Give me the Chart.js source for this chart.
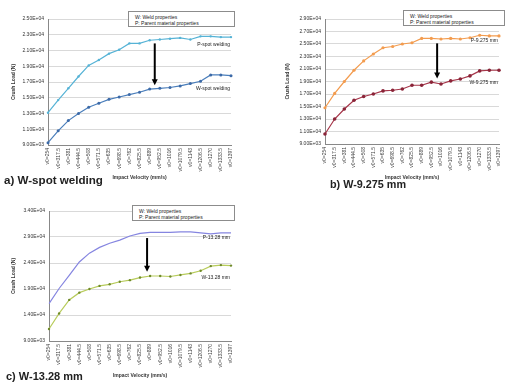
<!DOCTYPE html>
<html>
<head>
<meta charset="utf-8">
<script src="https://cdn.jsdelivr.net/npm/chart.js@4.4.1/dist/chart.umd.min.js"></script>
<style>
body{margin:0;background:#fff;width:508px;height:385px;position:relative;overflow:hidden;font-family:Arial,"Liberation Sans",sans-serif}
.pane{position:absolute}
.key{position:absolute;border:1px solid #8c8c8c;background:#fff;font-size:5px;line-height:6px;padding:2px 6px;color:#222;box-sizing:border-box;white-space:nowrap}
.cap{position:absolute;font-weight:bold;color:#222;white-space:nowrap}
</style>
</head>
<body>
<div class="pane" style="left:0;top:0"><canvas id="spotChart" width="240" height="185"></canvas></div>
<div class="pane" style="left:255px;top:0"><canvas id="mid9Chart" width="253" height="185"></canvas></div>
<div class="pane" style="left:0;top:195px"><canvas id="mid13Chart" width="240" height="190"></canvas></div>

<div class="key" style="left:128px;top:11px;width:107px;height:16px">W: Weld properties<br>P: Parent material properties</div>
<div class="key" style="left:403px;top:10px;width:102px;height:16px">W: Weld properties<br>P: Parent material properties</div>
<div class="key" style="left:132px;top:205px;width:103px;height:16px">W: Weld properties<br>P: Parent material properties</div>

<div class="cap" style="left:4px;top:173px;font-size:11.6px">a) W-spot welding</div>
<div class="cap" style="left:330px;top:178px;font-size:10.8px">b) W-9.275 mm</div>
<div class="cap" style="left:6px;top:370px;font-size:11px">c) W-13.28 mm</div>

<script>
const velocities = ['v0=254','v0=317.5','v0=381','v0=444.5','v0=508','v0=571.5','v0=635','v0=698.5','v0=762','v0=825.5','v0=889','v0=952.5','v0=1016','v0=1079.5','v0=1143','v0=1206.5','v0=1270','v0=1333.5','v0=1397'];

// a) spot welding
const spotParent = [13100,14700,16200,17700,19100,19800,20600,21100,21900,21900,22300,22400,22500,22600,22400,22800,22800,22700,22700];
const spotWeld = [9300,10800,12100,13000,13800,14300,14800,15100,15400,15700,16100,16200,16300,16500,16800,17100,17900,17900,17800];
const spotTicks = [9000,11000,13000,15000,17000,19000,21000,23000,25000];

// b) 9.275 mm
const mid9Parent = [14800,17100,19000,20800,22300,23400,24400,24600,25000,25200,25900,25900,25800,25900,25800,26000,26400,26300,26300];
const mid9Weld = [10600,13000,14600,16000,16600,17000,17500,17600,17800,18400,18400,18900,18600,19100,19400,19900,20700,20800,20800];
const mid9Ticks = [9000,11000,13000,15000,17000,19000,21000,23000,25000,27000,29000];

// c) 13.28 mm
const mid13Parent = [16200,19100,21600,24200,25900,27000,27800,28400,29200,29700,29900,29900,29900,30000,30000,29800,29600,29800,29800];
const mid13Weld = [11300,14300,16900,18300,19000,19600,19900,20400,20700,21200,21500,21500,21400,21700,22000,22500,23400,23600,23500];
const mid13Ticks = [9000,14000,19000,24000,29000,34000];

const FONT = 'Arial, "Liberation Sans", sans-serif';

//excel style 2.50E+04
const sci = (v) => {
    let [m, e] = v.toExponential(2).split('e');
    let n = parseInt(e);
    return m + 'E' + (n < 0 ? '-' : '+') + String(Math.abs(n)).padStart(2, '0');
};

//text labels and the arrow inside each plot
const notesPlugin = {
    id: 'notes',
    afterDatasetsDraw(chart, args, opts) {
        const { ctx, chartArea, scales: { x, y } } = chart;
        ctx.save();
        ctx.font = '5px ' + FONT;
        ctx.fillStyle = '#222';
        ctx.textAlign = 'right';
        ctx.textBaseline = 'middle';
        (opts.labels || []).forEach(l => ctx.fillText(l.text, chartArea.right - 1, y.getPixelForValue(l.y)));
        const a = opts.arrow;
        if (a) {
            const ax = x.getPixelForValue(a.x);
            const y0 = y.getPixelForValue(a.from);
            const y1 = y.getPixelForValue(a.to);
            ctx.strokeStyle = '#000';
            ctx.fillStyle = '#000';
            ctx.lineWidth = 2;
            ctx.beginPath(); ctx.moveTo(ax, y0); ctx.lineTo(ax, y1 - 5); ctx.stroke();
            ctx.beginPath(); ctx.moveTo(ax - 3, y1 - 6); ctx.lineTo(ax + 3, y1 - 6); ctx.lineTo(ax, y1); ctx.closePath(); ctx.fill();
        }
        ctx.restore();
    }
};

function makeChart(id, s) {
    new Chart(document.getElementById(id), {
        type: 'line',
        data: {
            labels: velocities,
            datasets: [
                { data: s.parent, borderColor: s.pColor, backgroundColor: s.pColor, borderWidth: 1.2, pointRadius: s.pPoint, pointBorderWidth: 0, tension: 0 },
                { data: s.weld, borderColor: s.wColor, backgroundColor: s.wMark, borderWidth: 1.2, pointRadius: s.wPoint, pointBorderWidth: 0, tension: 0 }
            ]
        },
        options: {
            responsive: false,
            animation: false,
            layout: { padding: s.pad },
            plugins: { legend: { display: false }, tooltip: { enabled: false }, notes: s.notes },
            scales: {
                x: {
                    grid: { display: false, drawTicks: false },
                    border: { color: '#888' },
                    ticks: { autoSkip: false, minRotation: 90, maxRotation: 90, padding: 3, color: '#444', font: { size: 5, family: FONT } },
                    title: { display: true, text: 'Impact Velocity (mm/s)', color: '#333', font: { size: 5, weight: 'bold', family: FONT }, padding: { top: 0, bottom: s.xTitlePad } },
                    afterFit: (sc) => { sc.height = s.xH; }
                },
                y: {
                    min: s.ticks[0],
                    max: s.ticks[s.ticks.length - 1],
                    afterBuildTicks: (sc) => { sc.ticks = s.ticks.map(v => ({ value: v })); },
                    grid: { color: '#d9d9d9', drawTicks: false },
                    border: { color: '#888' },
                    ticks: { callback: (v) => sci(v), padding: 4, color: '#333', font: { size: 5, family: FONT } },
                    title: { display: true, text: 'Crush Load (N)', color: '#333', font: { size: 5, weight: 'bold', family: FONT }, padding: { top: 2, bottom: 0 } },
                    afterFit: (sc) => { sc.width = s.yW; }
                }
            }
        },
        plugins: [notesPlugin]
    });
}

makeChart('spotChart', {
    parent: spotParent, weld: spotWeld, ticks: spotTicks,
    pColor: '#56b3d6', pPoint: 1.2, wColor: '#4a7ebb', wMark: '#3c6aa8', wPoint: 1.5,
    pad: { top: 19, left: 9, right: 8, bottom: 0 }, yW: 39, xH: 40, xTitlePad: 4,
    notes: {
        labels: [{ text: 'P-spot welding', y: 21800 }, { text: 'W-spot welding', y: 16200 }],
        arrow: { x: 10.5, from: 21900, to: 16600 }
    }
});

makeChart('mid9Chart', {
    parent: mid9Parent, weld: mid9Weld, ticks: mid9Ticks,
    pColor: '#f39c4f', pPoint: 1.6, wColor: '#a6364a', wMark: '#8a2438', wPoint: 1.8,
    pad: { top: 19, left: 28, right: 3, bottom: 0 }, yW: 42, xH: 41, xTitlePad: 4,
    notes: {
        labels: [{ text: 'P-9.275 mm', y: 25600 }, { text: 'W-9.275 mm', y: 18900 }],
        arrow: { x: 11.6, from: 25100, to: 19500 }
    }
});

makeChart('mid13Chart', {
    parent: mid13Parent, weld: mid13Weld, ticks: mid13Ticks,
    pColor: '#8585e0', pPoint: 0, wColor: '#b8cc5c', wMark: '#6f8a2a', wPoint: 1.2,
    pad: { top: 16, left: 9, right: 7, bottom: 0 }, yW: 40, xH: 44, xTitlePad: 6,
    notes: {
        labels: [{ text: 'P-13.28 mm', y: 28800 }, { text: 'W-13.28 mm', y: 21100 }],
        arrow: { x: 9.7, from: 28800, to: 22300 }
    }
});
</script>
</body>
</html>
